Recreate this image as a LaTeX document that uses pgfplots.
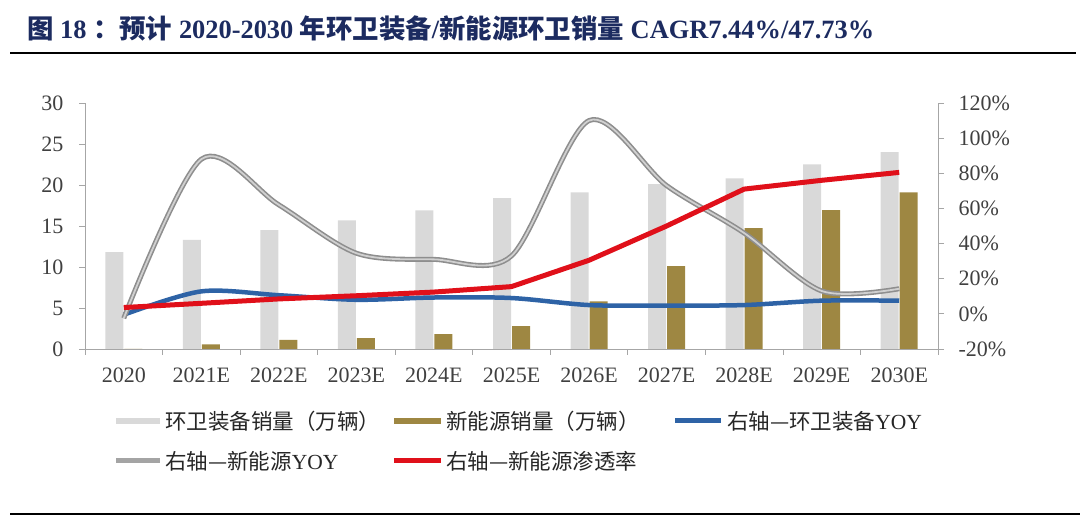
\documentclass[border=0pt]{standalone}
\usepackage{fontspec}
\setmainfont{Liberation Serif}
\newfontfamily\cjk{Noto Sans CJK SC}
\usepackage{pgfplots}
\pgfplotsset{compat=1.18}
\usepackage{pgfplotstable}
\definecolor{barg}{HTML}{D9D9D9}
\definecolor{bargold}{HTML}{9E8742}
\definecolor{yblue}{HTML}{2E63A6}
\definecolor{ygray}{HTML}{8E8E8E}
\definecolor{ygrayl}{HTML}{D0D0D0}
\definecolor{yred}{HTML}{E0101A}
\definecolor{titleblue}{HTML}{1C2B60}
\definecolor{axgray}{HTML}{A6A6A6}

\pgfplotstableread{
x total ne
0 11.8 0
1 13.3 0.57
2 14.5 1.1
3 15.7 1.34
4 16.9 1.8
5 18.4 2.8
6 19.1 5.8
7 20.1 10.1
8 20.8 14.75
9 22.5 16.95
10 24.0 19.1
}\bars

\pgfplotstableread{
x envyoy neyoy pen
0 -0.5 -2.5 3.6
1 12.8 88 6.0
2 10.6 62 8.5
3 8.0 34.5 10.3
4 9.3 31 12.4
5 9.0 33 15.5
6 5.0 110 30.5
7 4.7 73 50
8 5.0 46 71
9 7.5 13 76
10 7.5 14.3 80.5
}\lines

\begin{document}
\begin{tikzpicture}[x=1pt,y=1pt]
\path[use as bounding box] (0,0) rectangle (1090,518);
% title
\node[anchor=west, inner sep=0, text=titleblue] at (27,489)
 {\fontsize{26.4}{28}\selectfont\bfseries{\cjk 图} 18 {\cjk ：预计} 2020-2030 {\cjk 年环卫装备}/{\cjk 新能源环卫销量} CAGR7.44\%/47.73\%};
\draw[line width=2pt] (10,464.5) -- (1076,464.5);
\draw[line width=2pt] (10,4) -- (1080,4);

\begin{axis}[
 at={(85pt,169pt)}, anchor=south west, scale only axis,
 width=853pt, height=246pt,
 xmin=-0.5, xmax=10.5, ymin=0, ymax=30,
 axis x line*=bottom, axis y line*=left,
 axis line style={-, axgray, line width=0.8pt},
 xtick={0,...,10},
 xticklabels={2020,2021E,2022E,2023E,2024E,2025E,2026E,2027E,2028E,2029E,2030E},
 major x tick style={draw=none},
 minor xtick={-0.5,0.5,...,10.5},
 ytick={0,5,...,30},
 tick align=outside, tick style={axgray, line width=0.8pt},
 major tick length=6pt, minor tick length=6pt,
 ticklabel style={font=\fontsize{22}{24}\selectfont, text=black!75},
 yticklabel style={xshift=-12pt},
 xticklabel style={yshift=-9pt},
 /pgf/number format/assume math mode=true,
 ybar, bar width=18pt,
]
\addplot[fill=barg, draw=none, bar shift=-9.5pt] table[x=x,y=total]{\bars};
\addplot[fill=bargold, draw=none, bar shift=9.5pt] table[x=x,y=ne]{\bars};
\end{axis}

\begin{axis}[
 at={(85pt,169pt)}, anchor=south west, scale only axis,
 width=853pt, height=246pt,
 xmin=-0.5, xmax=10.5, ymin=-20, ymax=120,
 axis x line=none, axis y line*=right,
 axis line style={-, axgray, line width=0.8pt},
 ytick={-20,0,...,120},
 yticklabels={-20\%,0\%,20\%,40\%,60\%,80\%,100\%,120\%},
 tick align=outside, tick style={axgray, line width=0.8pt},
 major tick length=6pt,
 ticklabel style={font=\fontsize{22}{24}\selectfont, text=black!75},
 yticklabel style={xshift=11pt},
]
\addplot[yblue, line width=4.5pt, smooth, no markers] table[x=x,y=envyoy]{\lines};
\addplot[ygray, line width=5pt, smooth, no markers] table[x=x,y=neyoy]{\lines};
\addplot[ygrayl, line width=1.8pt, smooth, no markers] table[x=x,y=neyoy]{\lines};
\addplot[yred, line width=5pt, no markers, line join=round] table[x=x,y=pen]{\lines};
\end{axis}

% legend
\begin{scope}[every node/.style={anchor=west, inner sep=0, font=\fontsize{21.5}{23}\selectfont, text=black!85}]
\draw[barg, line width=6pt] (116,97) -- (160,97);
\node at (165,97) {\cjk 环卫装备销量（万辆）};
\draw[bargold, line width=6pt] (394,97) -- (441,97);
\node at (446,97) {\cjk 新能源销量（万辆）};
\draw[yblue, line width=5pt] (675,97) -- (721,97);
\node at (727,97) {{\cjk 右轴—环卫装备}YOY};
\draw[ygray!80, line width=5pt] (116,57) -- (160,57);
\node at (165,57) {{\cjk 右轴—新能源}YOY};
\draw[yred, line width=5pt] (394,57) -- (441,57);
\node at (446,57) {\cjk 右轴—新能源渗透率};
\end{scope}
\end{tikzpicture}
\end{document}
